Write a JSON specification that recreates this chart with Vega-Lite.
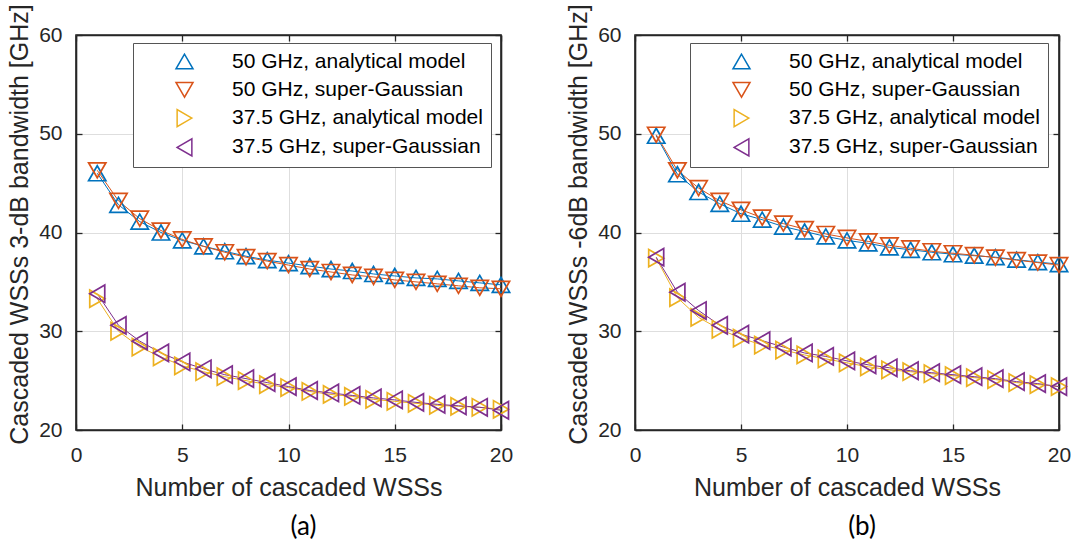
{
  "$schema": "https://vega.github.io/schema/vega-lite/v6.json",
  "background": "white",
  "padding": {"left": 6, "top": 2, "right": 5, "bottom": 3},
  "bounds": "flush",
  "spacing": 134,
  "config": {
    "view": {"stroke": "#262626", "strokeWidth": 1.6},
    "axis": {
      "labelFont": "Liberation Sans", "labelFontSize": 21, "labelColor": "#262626",
      "titleFont": "Liberation Sans", "titleFontSize": 25, "titleFontWeight": "normal", "titleColor": "#262626",
      "domain": true, "ticks": true,
      "domainColor": "#262626", "domainWidth": 1.6, "tickColor": "#262626", "tickWidth": 1.3, "tickSize": -6,
      "gridColor": "#dedede", "gridWidth": 1, "labelFlush": false
    }
  },
  "resolve": {"scale": {"color": "independent", "shape": "independent", "stroke": "independent"}, "legend": {"color": "independent", "stroke": "independent"}},
  "datasets": {
    "d": [
      {"p":"a","s":"50 GHz, analytical model","n":1,"v":46.0},{"p":"a","s":"50 GHz, analytical model","n":2,"v":42.8},{"p":"a","s":"50 GHz, analytical model","n":3,"v":41.1},{"p":"a","s":"50 GHz, analytical model","n":4,"v":40.0},{"p":"a","s":"50 GHz, analytical model","n":5,"v":39.2},{"p":"a","s":"50 GHz, analytical model","n":6,"v":38.6},{"p":"a","s":"50 GHz, analytical model","n":7,"v":38.1},{"p":"a","s":"50 GHz, analytical model","n":8,"v":37.6},{"p":"a","s":"50 GHz, analytical model","n":9,"v":37.2},{"p":"a","s":"50 GHz, analytical model","n":10,"v":36.9},{"p":"a","s":"50 GHz, analytical model","n":11,"v":36.6},{"p":"a","s":"50 GHz, analytical model","n":12,"v":36.3},{"p":"a","s":"50 GHz, analytical model","n":13,"v":36.1},{"p":"a","s":"50 GHz, analytical model","n":14,"v":35.8},{"p":"a","s":"50 GHz, analytical model","n":15,"v":35.6},{"p":"a","s":"50 GHz, analytical model","n":16,"v":35.4},{"p":"a","s":"50 GHz, analytical model","n":17,"v":35.3},{"p":"a","s":"50 GHz, analytical model","n":18,"v":35.1},{"p":"a","s":"50 GHz, analytical model","n":19,"v":34.9},{"p":"a","s":"50 GHz, analytical model","n":20,"v":34.7},
      {"p":"a","s":"50 GHz, super-Gaussian","n":1,"v":46.3},{"p":"a","s":"50 GHz, super-Gaussian","n":2,"v":43.2},{"p":"a","s":"50 GHz, super-Gaussian","n":3,"v":41.4},{"p":"a","s":"50 GHz, super-Gaussian","n":4,"v":40.2},{"p":"a","s":"50 GHz, super-Gaussian","n":5,"v":39.3},{"p":"a","s":"50 GHz, super-Gaussian","n":6,"v":38.6},{"p":"a","s":"50 GHz, super-Gaussian","n":7,"v":38.0},{"p":"a","s":"50 GHz, super-Gaussian","n":8,"v":37.5},{"p":"a","s":"50 GHz, super-Gaussian","n":9,"v":37.1},{"p":"a","s":"50 GHz, super-Gaussian","n":10,"v":36.7},{"p":"a","s":"50 GHz, super-Gaussian","n":11,"v":36.3},{"p":"a","s":"50 GHz, super-Gaussian","n":12,"v":36.0},{"p":"a","s":"50 GHz, super-Gaussian","n":13,"v":35.7},{"p":"a","s":"50 GHz, super-Gaussian","n":14,"v":35.5},{"p":"a","s":"50 GHz, super-Gaussian","n":15,"v":35.2},{"p":"a","s":"50 GHz, super-Gaussian","n":16,"v":35.0},{"p":"a","s":"50 GHz, super-Gaussian","n":17,"v":34.8},{"p":"a","s":"50 GHz, super-Gaussian","n":18,"v":34.6},{"p":"a","s":"50 GHz, super-Gaussian","n":19,"v":34.4},{"p":"a","s":"50 GHz, super-Gaussian","n":20,"v":34.3},
      {"p":"a","s":"37.5 GHz, analytical model","n":1,"v":33.3},{"p":"a","s":"37.5 GHz, analytical model","n":2,"v":30.0},{"p":"a","s":"37.5 GHz, analytical model","n":3,"v":28.4},{"p":"a","s":"37.5 GHz, analytical model","n":4,"v":27.4},{"p":"a","s":"37.5 GHz, analytical model","n":5,"v":26.5},{"p":"a","s":"37.5 GHz, analytical model","n":6,"v":25.9},{"p":"a","s":"37.5 GHz, analytical model","n":7,"v":25.4},{"p":"a","s":"37.5 GHz, analytical model","n":8,"v":25.0},{"p":"a","s":"37.5 GHz, analytical model","n":9,"v":24.6},{"p":"a","s":"37.5 GHz, analytical model","n":10,"v":24.3},{"p":"a","s":"37.5 GHz, analytical model","n":11,"v":23.9},{"p":"a","s":"37.5 GHz, analytical model","n":12,"v":23.6},{"p":"a","s":"37.5 GHz, analytical model","n":13,"v":23.4},{"p":"a","s":"37.5 GHz, analytical model","n":14,"v":23.1},{"p":"a","s":"37.5 GHz, analytical model","n":15,"v":22.9},{"p":"a","s":"37.5 GHz, analytical model","n":16,"v":22.7},{"p":"a","s":"37.5 GHz, analytical model","n":17,"v":22.5},{"p":"a","s":"37.5 GHz, analytical model","n":18,"v":22.4},{"p":"a","s":"37.5 GHz, analytical model","n":19,"v":22.3},{"p":"a","s":"37.5 GHz, analytical model","n":20,"v":22.1},
      {"p":"a","s":"37.5 GHz, super-Gaussian","n":1,"v":33.8},{"p":"a","s":"37.5 GHz, super-Gaussian","n":2,"v":30.6},{"p":"a","s":"37.5 GHz, super-Gaussian","n":3,"v":29.0},{"p":"a","s":"37.5 GHz, super-Gaussian","n":4,"v":27.8},{"p":"a","s":"37.5 GHz, super-Gaussian","n":5,"v":26.9},{"p":"a","s":"37.5 GHz, super-Gaussian","n":6,"v":26.2},{"p":"a","s":"37.5 GHz, super-Gaussian","n":7,"v":25.6},{"p":"a","s":"37.5 GHz, super-Gaussian","n":8,"v":25.2},{"p":"a","s":"37.5 GHz, super-Gaussian","n":9,"v":24.8},{"p":"a","s":"37.5 GHz, super-Gaussian","n":10,"v":24.4},{"p":"a","s":"37.5 GHz, super-Gaussian","n":11,"v":24.0},{"p":"a","s":"37.5 GHz, super-Gaussian","n":12,"v":23.75},{"p":"a","s":"37.5 GHz, super-Gaussian","n":13,"v":23.5},{"p":"a","s":"37.5 GHz, super-Gaussian","n":14,"v":23.25},{"p":"a","s":"37.5 GHz, super-Gaussian","n":15,"v":23.05},{"p":"a","s":"37.5 GHz, super-Gaussian","n":16,"v":22.8},{"p":"a","s":"37.5 GHz, super-Gaussian","n":17,"v":22.6},{"p":"a","s":"37.5 GHz, super-Gaussian","n":18,"v":22.45},{"p":"a","s":"37.5 GHz, super-Gaussian","n":19,"v":22.3},{"p":"a","s":"37.5 GHz, super-Gaussian","n":20,"v":22.0},
      {"p":"b","s":"50 GHz, analytical model","n":1,"v":49.8},{"p":"b","s":"50 GHz, analytical model","n":2,"v":45.9},{"p":"b","s":"50 GHz, analytical model","n":3,"v":44.1},{"p":"b","s":"50 GHz, analytical model","n":4,"v":42.9},{"p":"b","s":"50 GHz, analytical model","n":5,"v":41.9},{"p":"b","s":"50 GHz, analytical model","n":6,"v":41.3},{"p":"b","s":"50 GHz, analytical model","n":7,"v":40.6},{"p":"b","s":"50 GHz, analytical model","n":8,"v":40.1},{"p":"b","s":"50 GHz, analytical model","n":9,"v":39.6},{"p":"b","s":"50 GHz, analytical model","n":10,"v":39.2},{"p":"b","s":"50 GHz, analytical model","n":11,"v":38.9},{"p":"b","s":"50 GHz, analytical model","n":12,"v":38.5},{"p":"b","s":"50 GHz, analytical model","n":13,"v":38.25},{"p":"b","s":"50 GHz, analytical model","n":14,"v":38.0},{"p":"b","s":"50 GHz, analytical model","n":15,"v":37.8},{"p":"b","s":"50 GHz, analytical model","n":16,"v":37.65},{"p":"b","s":"50 GHz, analytical model","n":17,"v":37.5},{"p":"b","s":"50 GHz, analytical model","n":18,"v":37.25},{"p":"b","s":"50 GHz, analytical model","n":19,"v":37.0},{"p":"b","s":"50 GHz, analytical model","n":20,"v":36.8},
      {"p":"b","s":"50 GHz, super-Gaussian","n":1,"v":49.9},{"p":"b","s":"50 GHz, super-Gaussian","n":2,"v":46.3},{"p":"b","s":"50 GHz, super-Gaussian","n":3,"v":44.5},{"p":"b","s":"50 GHz, super-Gaussian","n":4,"v":43.2},{"p":"b","s":"50 GHz, super-Gaussian","n":5,"v":42.3},{"p":"b","s":"50 GHz, super-Gaussian","n":6,"v":41.5},{"p":"b","s":"50 GHz, super-Gaussian","n":7,"v":40.9},{"p":"b","s":"50 GHz, super-Gaussian","n":8,"v":40.35},{"p":"b","s":"50 GHz, super-Gaussian","n":9,"v":39.85},{"p":"b","s":"50 GHz, super-Gaussian","n":10,"v":39.45},{"p":"b","s":"50 GHz, super-Gaussian","n":11,"v":39.1},{"p":"b","s":"50 GHz, super-Gaussian","n":12,"v":38.7},{"p":"b","s":"50 GHz, super-Gaussian","n":13,"v":38.4},{"p":"b","s":"50 GHz, super-Gaussian","n":14,"v":38.1},{"p":"b","s":"50 GHz, super-Gaussian","n":15,"v":37.9},{"p":"b","s":"50 GHz, super-Gaussian","n":16,"v":37.7},{"p":"b","s":"50 GHz, super-Gaussian","n":17,"v":37.45},{"p":"b","s":"50 GHz, super-Gaussian","n":18,"v":37.2},{"p":"b","s":"50 GHz, super-Gaussian","n":19,"v":36.95},{"p":"b","s":"50 GHz, super-Gaussian","n":20,"v":36.7},
      {"p":"b","s":"37.5 GHz, analytical model","n":1,"v":37.4},{"p":"b","s":"37.5 GHz, analytical model","n":2,"v":33.4},{"p":"b","s":"37.5 GHz, analytical model","n":3,"v":31.4},{"p":"b","s":"37.5 GHz, analytical model","n":4,"v":30.2},{"p":"b","s":"37.5 GHz, analytical model","n":5,"v":29.3},{"p":"b","s":"37.5 GHz, analytical model","n":6,"v":28.6},{"p":"b","s":"37.5 GHz, analytical model","n":7,"v":28.1},{"p":"b","s":"37.5 GHz, analytical model","n":8,"v":27.6},{"p":"b","s":"37.5 GHz, analytical model","n":9,"v":27.2},{"p":"b","s":"37.5 GHz, analytical model","n":10,"v":26.8},{"p":"b","s":"37.5 GHz, analytical model","n":11,"v":26.4},{"p":"b","s":"37.5 GHz, analytical model","n":12,"v":26.1},{"p":"b","s":"37.5 GHz, analytical model","n":13,"v":25.9},{"p":"b","s":"37.5 GHz, analytical model","n":14,"v":25.7},{"p":"b","s":"37.5 GHz, analytical model","n":15,"v":25.5},{"p":"b","s":"37.5 GHz, analytical model","n":16,"v":25.3},{"p":"b","s":"37.5 GHz, analytical model","n":17,"v":25.1},{"p":"b","s":"37.5 GHz, analytical model","n":18,"v":24.8},{"p":"b","s":"37.5 GHz, analytical model","n":19,"v":24.6},{"p":"b","s":"37.5 GHz, analytical model","n":20,"v":24.4},
      {"p":"b","s":"37.5 GHz, super-Gaussian","n":1,"v":37.5},{"p":"b","s":"37.5 GHz, super-Gaussian","n":2,"v":33.95},{"p":"b","s":"37.5 GHz, super-Gaussian","n":3,"v":32.1},{"p":"b","s":"37.5 GHz, super-Gaussian","n":4,"v":30.6},{"p":"b","s":"37.5 GHz, super-Gaussian","n":5,"v":29.7},{"p":"b","s":"37.5 GHz, super-Gaussian","n":6,"v":29.05},{"p":"b","s":"37.5 GHz, super-Gaussian","n":7,"v":28.4},{"p":"b","s":"37.5 GHz, super-Gaussian","n":8,"v":27.8},{"p":"b","s":"37.5 GHz, super-Gaussian","n":9,"v":27.45},{"p":"b","s":"37.5 GHz, super-Gaussian","n":10,"v":27.0},{"p":"b","s":"37.5 GHz, super-Gaussian","n":11,"v":26.6},{"p":"b","s":"37.5 GHz, super-Gaussian","n":12,"v":26.3},{"p":"b","s":"37.5 GHz, super-Gaussian","n":13,"v":26.0},{"p":"b","s":"37.5 GHz, super-Gaussian","n":14,"v":25.8},{"p":"b","s":"37.5 GHz, super-Gaussian","n":15,"v":25.6},{"p":"b","s":"37.5 GHz, super-Gaussian","n":16,"v":25.4},{"p":"b","s":"37.5 GHz, super-Gaussian","n":17,"v":25.2},{"p":"b","s":"37.5 GHz, super-Gaussian","n":18,"v":24.9},{"p":"b","s":"37.5 GHz, super-Gaussian","n":19,"v":24.7},{"p":"b","s":"37.5 GHz, super-Gaussian","n":20,"v":24.4}
    ]
  },
  "hconcat": [
    {
      "width": 425, "height": 395,
      "data": {"name": "d"},
      "transform": [{"filter": "datum.p === 'a'"}],
      "title": {"text": "(a)", "orient": "bottom", "font": "Lato", "fontSize": 26, "fontWeight": "normal", "color": "#000000", "offset": 14, "dx": 15},
      "layer": [
        {
          "mark": {"type": "line", "strokeWidth": 1},
          "encoding": {
            "x": {"field": "n", "type": "quantitative", "scale": {"domain": [0, 20], "nice": false}, "axis": null},
            "y": {"field": "v", "type": "quantitative", "scale": {"domain": [20, 60], "nice": false, "zero": false}, "axis": null},
            "stroke": {"field": "s", "type": "nominal", "scale": {"domain": ["50 GHz, analytical model", "50 GHz, super-Gaussian", "37.5 GHz, analytical model", "37.5 GHz, super-Gaussian"], "range": ["#0072BD", "#D95319", "#EDB120", "#7E2F8E"]},
              "legend": {"orient": "none", "legendX": 57, "legendY": 8, "title": null, "labelFont": "Liberation Sans", "labelFontSize": 21, "labelColor": "#000000", "labelLimit": 500, "strokeColor": "#555555", "fillColor": "white", "padding": 8, "symbolOffset": 33, "labelOffset": 37, "rowPadding": 6.3, "symbolSize": 289, "symbolStrokeWidth": 1.5, "symbolFillColor": "transparent",
                "encode": {"symbols": {"update": {"fill": {"value": "transparent"}}}}}}
          }
        },
        {
          "mark": {"type": "point", "filled": false, "strokeWidth": 1.7, "size": 300, "opacity": 1},
          "encoding": {
            "x": {"field": "n", "type": "quantitative", "scale": {"domain": [0, 20], "nice": false}, "axis": {"orient": "bottom", "values": [0, 5, 10, 15, 20], "grid": true, "title": "Number of cascaded WSSs", "labelPadding": 20, "titlePadding": 10}},
            "y": {"field": "v", "type": "quantitative", "scale": {"domain": [20, 60], "nice": false, "zero": false}, "axis": {"orient": "left", "values": [20, 30, 40, 50, 60], "grid": true, "title": "Cascaded WSSs 3-dB bandwidth [GHz]", "labelPadding": 20, "titlePadding": 6, "titleY": 189}},
            "color": {"field": "s", "type": "nominal", "scale": {"domain": ["50 GHz, analytical model", "50 GHz, super-Gaussian", "37.5 GHz, analytical model", "37.5 GHz, super-Gaussian"], "range": ["#0072BD", "#D95319", "#EDB120", "#7E2F8E"]}, "legend": null},
            "shape": {"field": "s", "type": "nominal", "scale": {"domain": ["50 GHz, analytical model", "50 GHz, super-Gaussian", "37.5 GHz, analytical model", "37.5 GHz, super-Gaussian"], "range": ["triangle-up", "triangle-down", "triangle-right", "triangle-left"]}, "legend": null}
          }
        },
        {
          "mark": {"type": "point", "opacity": 0},
          "encoding": {
            "x": {"field": "n", "type": "quantitative", "scale": {"domain": [0, 20], "nice": false}, "axis": {"orient": "top", "values": [0, 5, 10, 15, 20], "labels": false, "title": null, "grid": false}},
            "y": {"field": "v", "type": "quantitative", "scale": {"domain": [20, 60], "nice": false, "zero": false}, "axis": {"orient": "right", "values": [20, 30, 40, 50, 60], "labels": false, "title": null, "grid": false}}
          }
        }
      ],
      "resolve": {"axis": {"x": "independent", "y": "independent"}}
    },
    {
      "width": 424, "height": 395,
      "data": {"name": "d"},
      "transform": [{"filter": "datum.p === 'b'"}],
      "title": {"text": "(b)", "orient": "bottom", "font": "Lato", "fontSize": 26, "fontWeight": "normal", "color": "#000000", "offset": 14, "dx": 15},
      "layer": [
        {
          "mark": {"type": "line", "strokeWidth": 1},
          "encoding": {
            "x": {"field": "n", "type": "quantitative", "scale": {"domain": [0, 20], "nice": false}, "axis": null},
            "y": {"field": "v", "type": "quantitative", "scale": {"domain": [20, 60], "nice": false, "zero": false}, "axis": null},
            "stroke": {"field": "s", "type": "nominal", "scale": {"domain": ["50 GHz, analytical model", "50 GHz, super-Gaussian", "37.5 GHz, analytical model", "37.5 GHz, super-Gaussian"], "range": ["#0072BD", "#D95319", "#EDB120", "#7E2F8E"]},
              "legend": {"orient": "none", "legendX": 55, "legendY": 8, "title": null, "labelFont": "Liberation Sans", "labelFontSize": 21, "labelColor": "#000000", "labelLimit": 500, "strokeColor": "#555555", "fillColor": "white", "padding": 8, "symbolOffset": 33, "labelOffset": 37, "rowPadding": 6.3, "symbolSize": 289, "symbolStrokeWidth": 1.5, "symbolFillColor": "transparent",
                "encode": {"symbols": {"update": {"fill": {"value": "transparent"}}}}}}
          }
        },
        {
          "mark": {"type": "point", "filled": false, "strokeWidth": 1.7, "size": 300, "opacity": 1},
          "encoding": {
            "x": {"field": "n", "type": "quantitative", "scale": {"domain": [0, 20], "nice": false}, "axis": {"orient": "bottom", "values": [0, 5, 10, 15, 20], "grid": true, "title": "Number of cascaded WSSs", "labelPadding": 20, "titlePadding": 10}},
            "y": {"field": "v", "type": "quantitative", "scale": {"domain": [20, 60], "nice": false, "zero": false}, "axis": {"orient": "left", "values": [20, 30, 40, 50, 60], "grid": true, "title": "Cascaded WSSs -6dB bandwidth [GHz]", "labelPadding": 20, "titlePadding": 6, "titleY": 189}},
            "color": {"field": "s", "type": "nominal", "scale": {"domain": ["50 GHz, analytical model", "50 GHz, super-Gaussian", "37.5 GHz, analytical model", "37.5 GHz, super-Gaussian"], "range": ["#0072BD", "#D95319", "#EDB120", "#7E2F8E"]}, "legend": null},
            "shape": {"field": "s", "type": "nominal", "scale": {"domain": ["50 GHz, analytical model", "50 GHz, super-Gaussian", "37.5 GHz, analytical model", "37.5 GHz, super-Gaussian"], "range": ["triangle-up", "triangle-down", "triangle-right", "triangle-left"]}, "legend": null}
          }
        },
        {
          "mark": {"type": "point", "opacity": 0},
          "encoding": {
            "x": {"field": "n", "type": "quantitative", "scale": {"domain": [0, 20], "nice": false}, "axis": {"orient": "top", "values": [0, 5, 10, 15, 20], "labels": false, "title": null, "grid": false}},
            "y": {"field": "v", "type": "quantitative", "scale": {"domain": [20, 60], "nice": false, "zero": false}, "axis": {"orient": "right", "values": [20, 30, 40, 50, 60], "labels": false, "title": null, "grid": false}}
          }
        }
      ],
      "resolve": {"axis": {"x": "independent", "y": "independent"}}
    }
  ]
}
